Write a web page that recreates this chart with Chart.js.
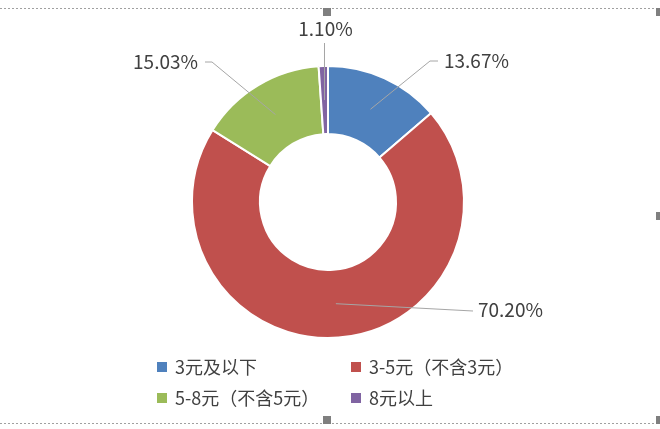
<!DOCTYPE html>
<html>
<head>
<meta charset="utf-8">
<script src="https://cdn.jsdelivr.net/npm/chart.js@4/dist/chart.umd.min.js"></script>
<style>
  html, body { margin: 0; padding: 0; background: #ffffff; }
  #wrap { position: relative; width: 660px; height: 429px; }
</style>
</head>
<body>
<div id="wrap"><canvas id="c" width="660" height="429"></canvas></div>
<script>
// ---- data ----
const categories = ['3元及以下', '3-5元（不含3元）', '5-8元（不含5元）', '8元以上'];
const shares = [13.67, 70.20, 15.03, 1.10];
const sliceColors = ['#4F81BD', '#C0504D', '#9BBB59', '#8064A2'];

// ---- label placement (relative to doughnut centre) ----
const labelPlacement = [
  { elbow: [102, -141], end: [110, -141], text: [116, -141], align: 'left' },
  { elbow: null,        end: [145, 109],  text: [150, 108],  align: 'left' },
  { elbow: [-116, -140], end: [-123, -140], text: [-130, -140], align: 'right' },
  { elbow: null,        end: [-3.5, -159], text: [-2.5, -173], align: 'center' }
];

const FONT = '"Noto Sans CJK SC", "Noto Sans", sans-serif';
const TEXT_COLOR = '#404040';

const framePlugin = {
  id: 'frame',
  beforeDraw(chart) {
    const ctx = chart.ctx;
    ctx.save();
    ctx.fillStyle = '#ffffff';
    ctx.fillRect(0, 0, chart.width, chart.height);
    ctx.strokeStyle = '#A0A0A0';
    ctx.lineWidth = 1;
    ctx.setLineDash([2, 2]);
    ctx.beginPath();
    ctx.moveTo(0, 8.5); ctx.lineTo(656, 8.5);
    ctx.moveTo(0, 423.5); ctx.lineTo(656, 423.5);
    ctx.stroke();
    ctx.setLineDash([]);
    ctx.fillStyle = '#7F7F7F';
    [[323, 8], [656, 8], [656, 212], [656, 416], [323, 416]].forEach(([x, y]) => ctx.fillRect(x, y, 8, 8));
    ctx.restore();
  }
};

const labelPlugin = {
  id: 'leaderLabels',
  afterDatasetsDraw(chart) {
    const ctx = chart.ctx;
    const meta = chart.getDatasetMeta(0);
    const ds = chart.data.datasets[0];
    ctx.save();
    meta.data.forEach((arc, i) => {
      const p = arc.getProps(['x', 'y', 'startAngle', 'endAngle', 'innerRadius', 'outerRadius'], true);
      const mid = (p.startAngle + p.endAngle) / 2;
      const r = (p.innerRadius + p.outerRadius) / 2;
      const sx = p.x + Math.cos(mid) * r;
      const sy = p.y + Math.sin(mid) * r;
      const lp = labelPlacement[i];
      ctx.strokeStyle = '#A6A6A6';
      ctx.lineWidth = 1;
      ctx.beginPath();
      ctx.moveTo(sx, sy);
      if (lp.elbow) ctx.lineTo(p.x + lp.elbow[0], p.y + lp.elbow[1]);
      ctx.lineTo(p.x + lp.end[0], p.y + lp.end[1]);
      ctx.stroke();
      ctx.fillStyle = TEXT_COLOR;
      ctx.font = '19px ' + FONT;
      ctx.textAlign = lp.align;
      ctx.textBaseline = 'middle';
      ctx.fillText(ds.data[i].toFixed(2) + '%', p.x + lp.text[0], p.y + lp.text[1]);
    });
    ctx.restore();
  }
};

const legendPlugin = {
  id: 'gridLegend',
  afterDraw(chart) {
    const ctx = chart.ctx;
    const ds = chart.data.datasets[0];
    const cols = [157, 351];
    const rows = [367, 398];
    ctx.save();
    ctx.font = '18px ' + FONT;
    ctx.textBaseline = 'middle';
    ctx.textAlign = 'left';
    chart.data.labels.forEach((lab, i) => {
      const x = cols[i % 2];
      const y = rows[Math.floor(i / 2)];
      ctx.fillStyle = ds.backgroundColor[i];
      ctx.fillRect(x, y - 5, 10, 10);
      ctx.fillStyle = TEXT_COLOR;
      ctx.fillText(lab, x + 18, y);
    });
    ctx.restore();
  }
};

new Chart(document.getElementById('c'), {
  type: 'doughnut',
  data: {
    labels: categories,
    datasets: [{
      data: shares,
      backgroundColor: sliceColors,
      borderColor: '#ffffff',
      borderWidth: 2,
      hoverOffset: 0
    }]
  },
  options: {
    responsive: false,
    animation: false,
    devicePixelRatio: 1,
    radius: 136,
    cutout: '50%',
    layout: { padding: { left: 190, right: 194, top: 64, bottom: 89 } },
    plugins: {
      legend: { display: false },
      tooltip: { enabled: false }
    }
  },
  plugins: [framePlugin, labelPlugin, legendPlugin]
});
</script>
</body>
</html>
